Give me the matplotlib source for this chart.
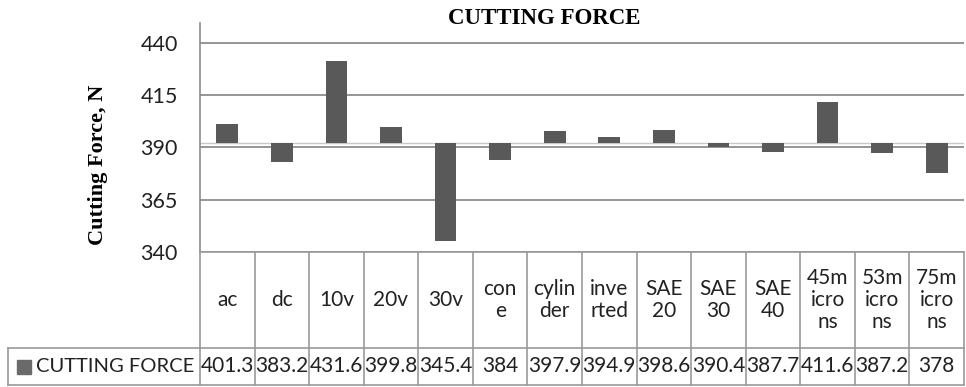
import matplotlib
matplotlib.use("Agg")
import matplotlib.pyplot as plt
import numpy as np

categories = ["ac", "dc", "10v", "20v", "30v", "con\ne", "cylin\nder", "inve\nrted",
              "SAE\n20", "SAE\n30", "SAE\n40", "45m\nicro\nns", "53m\nicro\nns", "75m\nicro\nns"]
cutting_force = [401.3, 383.2, 431.6, 399.8, 345.4, 384, 397.9, 394.9,
                 398.6, 390.4, 387.7, 411.6, 387.2, 378]
value_labels = ["401.3", "383.2", "431.6", "399.8", "345.4", "384", "397.9", "394.9",
                "398.6", "390.4", "387.7", "411.6", "387.2", "378"]
series_name = "CUTTING FORCE"
y_ticks = [340, 365, 390, 415, 440]

W, H = 966, 387
bar_color = "#595959"
grid_color = "#8c8c8c"
line_color = "#9a9a9a"
text_color = "#222222"
sans = "Lato"
serif = "Liberation Serif"

fig = plt.figure(figsize=(W / 100, H / 100), dpi=100)

# main plot area (pixel layout from the reference)
left_px, right_px = 200, 964
top_px, bottom_px = 23, 252
ax = fig.add_axes([left_px / W, (H - bottom_px) / H,
                   (right_px - left_px) / W, (bottom_px - top_px) / H])

x = np.arange(len(categories))
vals = np.array(cutting_force)
base = vals.mean()  # horizontal axis crosses at the average

ax.bar(x, vals - base, bottom=base, width=0.4, color=bar_color, zorder=3)
ax.axhline(base, color="#c8c8c8", lw=1.0, zorder=2)

ax.set_xlim(-0.5, len(categories) - 0.5)
ppu = (bottom_px - 43) / 100.0
ax.set_ylim(340, 440 + (43 - top_px) / ppu)
ax.set_yticks(y_ticks)
ax.set_yticklabels([str(t) for t in y_ticks], fontfamily=sans, fontsize=15.5, color=text_color)
ax.set_xticks([])
ax.tick_params(axis="y", length=0, pad=16)
ax.yaxis.grid(True, color=grid_color, lw=1.3, zorder=1)
ax.set_axisbelow(True)
for s in ["top", "right", "bottom"]:
    ax.spines[s].set_visible(False)
ax.spines["left"].set_color(grid_color)
ax.spines["left"].set_linewidth(1.2)

ax.set_ylabel("Cutting Force, N", fontfamily=serif, fontweight="bold", fontsize=16)
ax.yaxis.set_label_coords((108 - left_px) / (right_px - left_px),
                          (bottom_px - 165) / (bottom_px - top_px))
fig.text(544 / W, 1 - 19 / H, "CUTTING FORCE", fontfamily=serif, fontweight="bold",
         fontsize=16.5, ha="center", va="center")

# data table below the plot
tab_bottom = 385
tab = fig.add_axes([left_px / W, (H - tab_bottom) / H,
                    (right_px - left_px) / W, (tab_bottom - bottom_px) / H])
tab.set_xlim(ax.get_xlim())
tab.set_ylim(0, 1)
tab.axis("off")

row_split = (tab_bottom - 348) / (tab_bottom - bottom_px)
col_w = (right_px - left_px) / len(categories)
label_left = -0.5 - (left_px - 8) / col_w

kw = dict(color=line_color, lw=1.2, clip_on=False)
tab.plot([-0.5, len(categories) - 0.5], [1, 1], **kw)
tab.plot([label_left, len(categories) - 0.5], [row_split, row_split], **kw)
tab.plot([label_left, len(categories) - 0.5], [0, 0], **kw)
tab.plot([label_left, label_left], [0, row_split], **kw)
for b in np.arange(len(categories) + 1) - 0.5:
    tab.plot([b, b], [0, 1], **kw)

for i, (cat, lab) in enumerate(zip(categories, value_labels)):
    tab.text(i, (1 + row_split) / 2, cat, ha="center", va="center", fontfamily=sans,
             fontsize=15, color=text_color, linespacing=1.15, clip_on=False)
    tab.text(i, row_split / 2, lab, ha="center", va="center", fontfamily=sans,
             fontsize=15, color=text_color, clip_on=False)

key_x = -0.5 - (left_px - 24) / col_w
tab.plot([key_x], [row_split / 2], marker="s", markersize=10.5, color="#6a6a6a",
         clip_on=False, lw=0)
tab.text(-0.5 - (left_px - 36) / col_w, row_split / 2, series_name, ha="left", va="center",
         fontfamily=sans, fontsize=14.5, color=text_color, clip_on=False)

fig.savefig("out.png", dpi=100)
